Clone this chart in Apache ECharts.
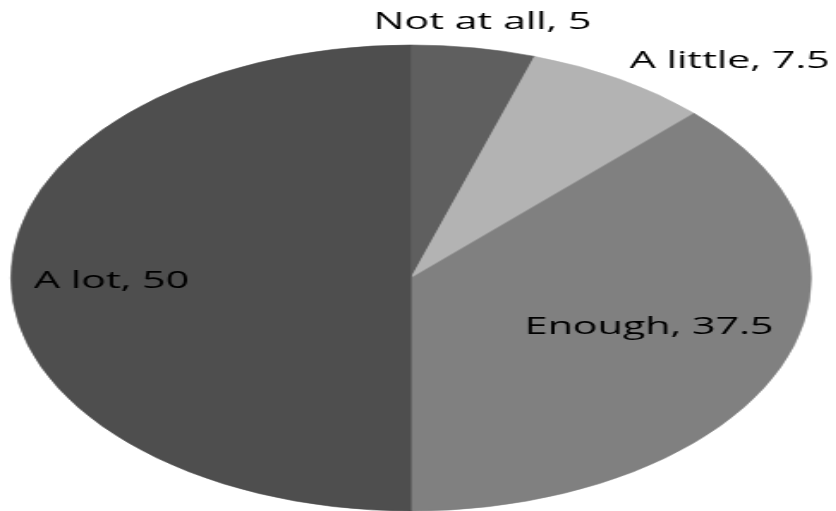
<!DOCTYPE html>
<html>
<head>
<meta charset="utf-8">
<script src="https://cdn.jsdelivr.net/npm/echarts@6/dist/echarts.min.js"></script>
<style>
html,body{margin:0;padding:0;background:#fff;overflow:hidden;width:836px;height:511px;}
#chart{width:487px;height:511px;transform:scaleX(1.717);transform-origin:0 0;}
</style>
</head>
<body>
<div id="chart"></div>
<script>
var categories = ['Not at all', 'A little', 'Enough', 'A lot'];
var values = [5, 7.5, 37.5, 50];

var sliceColors = ['#5f5f5f', '#b3b3b3', '#808080', '#4e4e4e'];
var labelPos = [[281, 22], [425, 61], [378, 327], [65, 281]];

var chart = echarts.init(document.getElementById('chart'), null, {renderer: 'canvas'});
var data = categories.map(function (c, i) {
  return {name: c, value: values[i], itemStyle: {color: sliceColors[i], borderColor: sliceColors[i]}};
});
chart.setOption({
  animation: false,
  series: [{
    type: 'pie',
    center: [239.4, 278],
    radius: 233,
    startAngle: 90,
    clockwise: true,
    data: data,
    itemStyle: {borderWidth: 0.6},
    emphasis: {disabled: true},
    label: {
      show: true,
      position: 'inside',
      formatter: '{b}, {c}',
      color: '#000',
      fontFamily: 'Open Sans',
      fontSize: 24
    },
    labelLine: {show: false},
    labelLayout: function (p) {
      var pos = labelPos[p.dataIndex];
      return {x: pos[0], y: pos[1], align: 'center', verticalAlign: 'middle'};
    }
  }]
});
</script>
</body>
</html>
